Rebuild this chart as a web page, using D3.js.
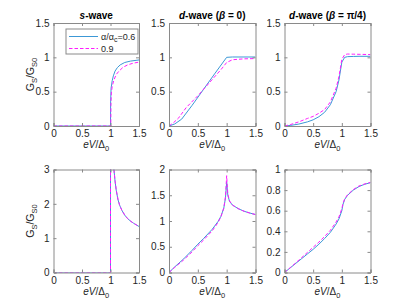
<!DOCTYPE html>
<html><head><meta charset="utf-8">
<script src="https://cdn.jsdelivr.net/npm/d3@7"></script>
<style>
body{margin:0;background:#fff;}
text{font-family:"Liberation Sans",Arial,sans-serif;}
</style></head>
<body><svg id="c" width="411" height="308"></svg>
<script>
// ---------- data ----------
const seriesNames = ["0.6", "0.9"];
const xTicks = [0, 0.5, 1, 1.5];

// s-wave, top
const sTopV_a = [0, 1.0, 1.002, 1.01, 1.03, 1.05, 1.08, 1.12, 1.17, 1.25, 1.35, 1.5];
const sTopG_a = [0, 0, 0.35, 0.55, 0.66, 0.73, 0.8, 0.85, 0.89, 0.925, 0.945, 0.962];
const sTopV_b = [0, 1.005, 1.007, 1.015, 1.03, 1.06, 1.1, 1.15, 1.22, 1.3, 1.4, 1.5];
const sTopG_b = [0, 0, 0.3, 0.48, 0.58, 0.67, 0.75, 0.8, 0.855, 0.89, 0.915, 0.93];

// d-wave beta=0, top
const d0TopV_a = [0, 0.1, 0.22, 0.4, 0.6, 0.8, 1.0, 1.1, 1.3, 1.5];
const d0TopG_a = [0, 0.03, 0.1, 0.3, 0.535, 0.77, 1.0, 1.005, 1.005, 1.005];
const d0TopV_b = [0, 0.08, 0.16, 0.3, 0.5, 0.7, 0.9, 1.0, 1.1, 1.3, 1.5];
const d0TopG_b = [0, 0.05, 0.11, 0.27, 0.44, 0.63, 0.82, 0.925, 0.965, 0.978, 0.982];

// d-wave beta=pi/4, top
const d4TopV = [0, 0.1, 0.25, 0.4, 0.5, 0.6, 0.7, 0.8, 0.9, 0.95, 1.0, 1.05, 1.1, 1.2, 1.3, 1.5];
const d4TopG_a = [0, 0.008, 0.028, 0.06, 0.09, 0.135, 0.2, 0.31, 0.5, 0.67, 0.93, 1.0, 1.01, 1.013, 1.015, 1.015];
const d4TopG_b = [0, 0.02, 0.06, 0.11, 0.14, 0.185, 0.24, 0.35, 0.55, 0.72, 0.97, 1.04, 1.048, 1.046, 1.044, 1.04];

// s-wave, bottom
const sBotV = [0, 1.0, 1.0, 1.04, 1.06, 1.08, 1.1, 1.13, 1.16, 1.2, 1.25, 1.3, 1.35, 1.4, 1.45, 1.5];
const sBotG_a = [0, 0, 3.6, 3.6, 3.0, 2.66, 2.4, 2.13, 1.96, 1.81, 1.67, 1.57, 1.5, 1.44, 1.39, 1.34];
const sBotG_b = [0, 0, 3.6, 3.6, 3.0, 2.67, 2.41, 2.14, 1.96, 1.81, 1.67, 1.57, 1.5, 1.44, 1.39, 1.34];

// d-wave beta=0, bottom
const d0BotV = [0, 0.1, 0.25, 0.4, 0.5, 0.6, 0.75, 0.85, 0.9, 0.95, 0.98, 1.0, 1.02, 1.05, 1.1, 1.2, 1.3, 1.4, 1.5];
const d0BotG_a = [0, 0.11, 0.26, 0.43, 0.55, 0.66, 0.84, 0.99, 1.09, 1.25, 1.45, 1.76, 1.5, 1.38, 1.31, 1.24, 1.19, 1.155, 1.125];
const d0BotG_b = [0, 0.1, 0.24, 0.4, 0.52, 0.63, 0.81, 0.97, 1.08, 1.25, 1.48, 1.88, 1.52, 1.39, 1.31, 1.24, 1.19, 1.155, 1.125];

// d-wave beta=pi/4, bottom
const d4BotV = [0, 0.1, 0.2, 0.3, 0.4, 0.5, 0.6, 0.7, 0.8, 0.9, 0.95, 1.0, 1.02, 1.05, 1.1, 1.2, 1.3, 1.4, 1.5];
const d4BotG_a = [0, 0.045, 0.09, 0.135, 0.18, 0.225, 0.275, 0.33, 0.39, 0.47, 0.52, 0.6, 0.66, 0.71, 0.75, 0.8, 0.835, 0.857, 0.872];
const d4BotG_b = [0, 0.047, 0.095, 0.145, 0.195, 0.245, 0.295, 0.35, 0.41, 0.49, 0.54, 0.62, 0.67, 0.715, 0.755, 0.805, 0.84, 0.86, 0.875];

const yTicksTop = [0, 0.5, 1, 1.5];
const yTicksSBot = [0, 1, 2, 3];
const yTicksD0Bot = [0, 0.5, 1, 1.5, 2];
const yTicksD4Bot = [0, 0.2, 0.4, 0.6, 0.8, 1];

// ---------- drawing ----------
const svg = d3.select("#c");
const BLUE = "#3c98d6", MAG = "#ff1cff", AX = "#8a8a8a", TXT = "#262626";
const cols = [[53.5, 139], [169, 255.5], [284.5, 370.5]];
const rows = [[23, 126], [169.5, 272.5]];

function fmt(v){ return String(v); }

function panel(id, col, row, yMax, yTicks, seriesA, seriesB) {
  const [x0, x1] = cols[col], [y0, y1] = rows[row];
  const x = d3.scaleLinear().domain([0, 1.5]).range([x0, x1]);
  const y = d3.scaleLinear().domain([0, yMax]).range([y1, y0]);
  const g = svg.append("g");
  svg.append("clipPath").attr("id", "cp" + id).append("rect")
    .attr("x", x0).attr("y", y0).attr("width", x1 - x0).attr("height", y1 - y0);
  const line = d3.line().x(d => x(d[0])).y(d => y(d[1]));
  const gl = g.append("g").attr("clip-path", `url(#cp${id})`);
  gl.append("path").datum(d3.zip(seriesA[0], seriesA[1]))
    .attr("d", line).attr("fill", "none").attr("stroke", BLUE).attr("stroke-width", 1);
  gl.append("path").datum(d3.zip(seriesB[0], seriesB[1]))
    .attr("d", line).attr("fill", "none").attr("stroke", MAG).attr("stroke-width", 1)
    .attr("stroke-dasharray", "3.5,2");
  // axes
  const axB = d3.axisBottom(x).tickValues(xTicks).tickSize(-3).tickPadding(4).tickFormat(fmt);
  const axT = d3.axisTop(x).tickValues(xTicks).tickSize(-3).tickFormat("");
  const axL = d3.axisLeft(y).tickValues(yTicks).tickSize(-3).tickPadding(4).tickFormat(fmt);
  const axR = d3.axisRight(y).tickValues(yTicks).tickSize(-3).tickFormat("");
  const a1 = g.append("g").attr("transform", `translate(0,${y1})`).call(axB);
  const a2 = g.append("g").attr("transform", `translate(0,${y0})`).call(axT);
  const a3 = g.append("g").attr("transform", `translate(${x0},0)`).call(axL);
  const a4 = g.append("g").attr("transform", `translate(${x1},0)`).call(axR);
  [a1, a2, a3, a4].forEach(a => {
    a.selectAll("path").attr("stroke", AX).attr("stroke-width", 1);
    a.selectAll("line").attr("stroke", AX);
    a.selectAll("text").attr("fill", TXT).style("font-size", "10px");
  });
  // xlabel
  const xl = g.append("text").attr("x", (x0 + x1) / 2).attr("y", y1 + 22)
    .attr("text-anchor", "middle").attr("fill", TXT).style("font-size", "10px");
  xl.append("tspan").style("font-style", "italic").text("eV");
  xl.append("tspan").text("/Δ");
  xl.append("tspan").attr("dy", 3).style("font-size", "7.5px").text("0");
  return { x, y, g };
}

function ylabel(row) {
  const [y0, y1] = rows[row];
  const t = svg.append("text").attr("transform", `translate(34,${(y0 + y1) / 2}) rotate(-90)`)
    .attr("text-anchor", "middle").attr("fill", TXT).style("font-size", "10.5px");
  t.append("tspan").text("G");
  t.append("tspan").attr("dy", 3).style("font-size", "7.5px").text("S");
  t.append("tspan").attr("dy", -3).text("/G");
  t.append("tspan").attr("dy", 3).style("font-size", "7.5px").text("S0");
}

function title(col, parts) {
  const [x0, x1] = cols[col];
  const t = svg.append("text").attr("x", (x0 + x1) / 2).attr("y", 19)
    .attr("text-anchor", "middle").attr("fill", "#000").style("font-size", "10px").style("font-weight", "bold");
  parts.forEach(p => t.append("tspan").style("font-style", p[1] ? "italic" : "normal").text(p[0]));
}

panel("a", 0, 0, 1.5, yTicksTop, [sTopV_a, sTopG_a], [sTopV_b, sTopG_b]);
panel("b", 1, 0, 1.5, yTicksTop, [d0TopV_a, d0TopG_a], [d0TopV_b, d0TopG_b]);
panel("c", 2, 0, 1.5, yTicksTop, [d4TopV, d4TopG_a], [d4TopV, d4TopG_b]);
panel("d", 0, 1, 3, yTicksSBot, [sBotV, sBotG_a], [sBotV, sBotG_b]);
panel("e", 1, 1, 2, yTicksD0Bot, [d0BotV, d0BotG_a], [d0BotV, d0BotG_b]);
panel("f", 2, 1, 1, yTicksD4Bot, [d4BotV, d4BotG_a], [d4BotV, d4BotG_b]);

ylabel(0); ylabel(1);
title(0, [["s", true], ["-wave", false]]);
title(1, [["d", true], ["-wave (", false], ["β", true], [" = 0)", false]]);
title(2, [["d", true], ["-wave (", false], ["β", true], [" = π/4)", false]]);

// legend
const lg = svg.append("g");
lg.append("rect").attr("x", 66).attr("y", 29).attr("width", 72).attr("height", 25)
  .attr("fill", "#fff").attr("stroke", AX).attr("stroke-width", 1);
const legColors = [BLUE, MAG];
seriesNames.forEach((n, i) => {
  const yy = 36.5 + i * 12;
  lg.append("line").attr("x1", 69).attr("x2", 98).attr("y1", yy).attr("y2", yy)
    .attr("stroke", legColors[i]).attr("stroke-width", 1)
    .attr("stroke-dasharray", i ? "3.5,2" : null);
  const t = lg.append("text").attr("x", 101).attr("y", yy + 3.3).attr("fill", TXT).style("font-size", "9px");
  if (i === 0) {
    t.append("tspan").text("α/α");
    t.append("tspan").attr("dy", 2.5).style("font-size", "7px").text("c");
    t.append("tspan").attr("dy", -2.5).text("=" + n);
  } else {
    t.text(n);
  }
});
</script></body></html>
